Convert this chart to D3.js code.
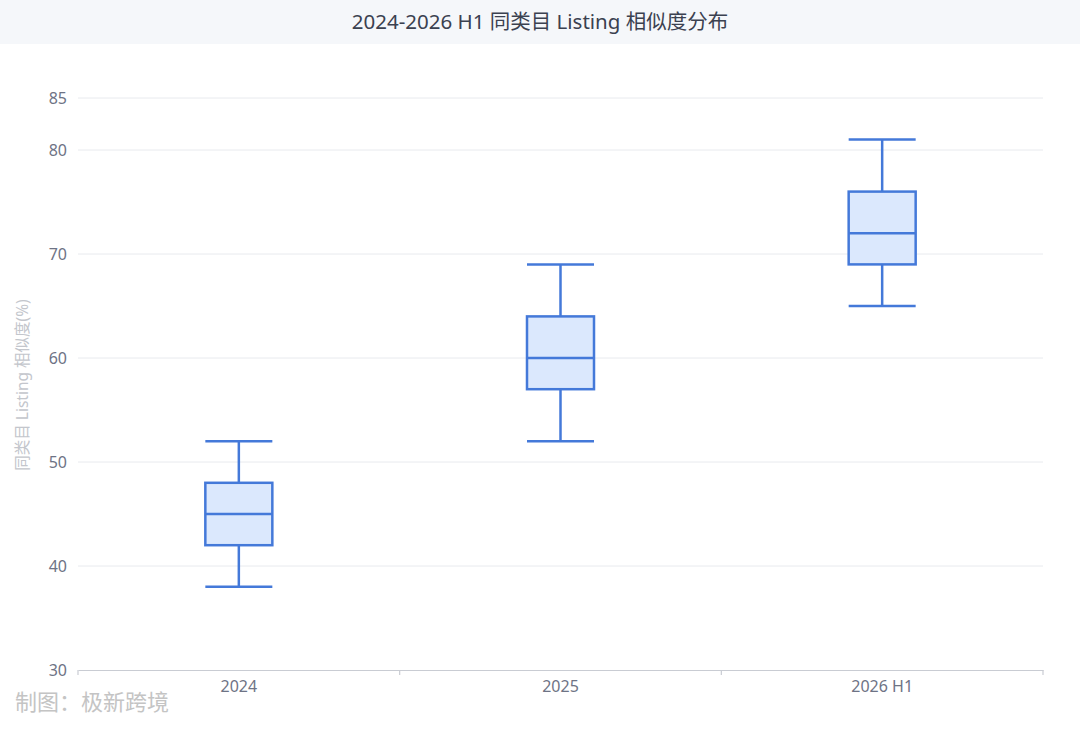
<!DOCTYPE html>
<html>
<head>
<meta charset="utf-8">
<script src="https://cdn.jsdelivr.net/npm/d3@7/dist/d3.min.js"></script>
<style>
  body { margin: 0; background: #fff; }
  svg { display: block; font-family: "Noto Sans", "Noto Sans CJK SC", sans-serif; }
</style>
</head>
<body>
<svg width="1080" height="737"></svg>
<script>
var categories = ["2024", "2025", "2026 H1"];
var mins    = [38, 52, 65];
var q1s     = [42, 57, 69];
var medians = [45, 60, 72];
var q3s     = [48, 64, 76];
var maxs    = [52, 69, 81];
var yTicks  = [30, 40, 50, 60, 70, 80, 85];

var svg = d3.select("svg"),
    width = +svg.attr("width"),
    height = +svg.attr("height");

var margin = {top: 98, right: 37, bottom: 67, left: 78};

var x = d3.scaleBand()
    .domain(categories)
    .range([margin.left, width - margin.right]);

var y = d3.scaleLinear()
    .domain([30, 85])
    .range([height - margin.bottom, margin.top]);

// title bar
svg.append("rect")
    .attr("x", 0).attr("y", 0)
    .attr("width", width).attr("height", 44)
    .attr("fill", "#f5f7fa");

svg.append("text")
    .attr("x", width / 2)
    .attr("y", 29)
    .attr("text-anchor", "middle")
    .attr("font-size", "20.5px")
    .attr("fill", "#3b4150")
    .text("2024-2026 H1 同类目 Listing 相似度分布");

// grid
svg.append("g")
  .selectAll("line")
  .data(yTicks.filter(function(d) { return d > 30; }))
  .enter().append("line")
    .attr("x1", margin.left)
    .attr("x2", width - margin.right)
    .attr("y1", function(d) { return y(d); })
    .attr("y2", function(d) { return y(d); })
    .attr("stroke", "#e8eaee")
    .attr("stroke-width", 1);

// y axis labels
var yAxis = d3.axisLeft(y).tickValues(yTicks).tickSize(0).tickPadding(11);
var yg = svg.append("g")
    .attr("transform", "translate(" + margin.left + ",0)")
    .call(yAxis);
yg.select(".domain").remove();
yg.selectAll("text")
    .attr("font-size", "16px")
    .attr("fill", "#6e7385")
    .attr("font-family", "\"Noto Sans\", sans-serif");

// x axis
var xg = svg.append("g")
    .attr("transform", "translate(0," + y(30) + ")")
    .call(d3.axisBottom(x).tickSize(0).tickPadding(11));
xg.select(".domain").attr("stroke", "#c9ccd3").attr("stroke-width", 1.2);
xg.selectAll("text")
    .attr("font-size", "16px")
    .attr("fill", "#6e7385")
    .attr("font-family", "\"Noto Sans\", sans-serif");

// band boundary ticks
var edges = categories.map(function(c) { return x(c); }).concat([x.range()[1]]);
svg.append("g")
  .selectAll("line")
  .data(edges)
  .enter().append("line")
    .attr("x1", function(d) { return d; })
    .attr("x2", function(d) { return d; })
    .attr("y1", y(30))
    .attr("y2", y(30) + 5)
    .attr("stroke", "#c9ccd3")
    .attr("stroke-width", 1.2);

// y axis title
svg.append("text")
    .attr("transform", "translate(28," + ((y(30) + y(85)) / 2 + 1) + ") rotate(-90)")
    .attr("text-anchor", "middle")
    .attr("font-size", "15.5px")
    .attr("fill", "#c3c6cc")
    .text("同类目 Listing 相似度(%)");

// boxes
var boxW = 67;
var stroke = "#4479d9";
var boxes = svg.append("g")
  .selectAll("g")
  .data(categories)
  .enter().append("g")
    .attr("transform", function(d) { return "translate(" + (x(d) + x.bandwidth() / 2) + ",0)"; });

boxes.append("line")
    .attr("y1", function(d, i) { return y(maxs[i]); })
    .attr("y2", function(d, i) { return y(q3s[i]); })
    .attr("stroke", stroke).attr("stroke-width", 2.5);
boxes.append("line")
    .attr("y1", function(d, i) { return y(q1s[i]); })
    .attr("y2", function(d, i) { return y(mins[i]); })
    .attr("stroke", stroke).attr("stroke-width", 2.5);
boxes.append("line")
    .attr("x1", -boxW / 2).attr("x2", boxW / 2)
    .attr("y1", function(d, i) { return y(maxs[i]); })
    .attr("y2", function(d, i) { return y(maxs[i]); })
    .attr("stroke", stroke).attr("stroke-width", 2.5);
boxes.append("line")
    .attr("x1", -boxW / 2).attr("x2", boxW / 2)
    .attr("y1", function(d, i) { return y(mins[i]); })
    .attr("y2", function(d, i) { return y(mins[i]); })
    .attr("stroke", stroke).attr("stroke-width", 2.5);
boxes.append("rect")
    .attr("x", -boxW / 2)
    .attr("width", boxW)
    .attr("y", function(d, i) { return y(q3s[i]); })
    .attr("height", function(d, i) { return y(q1s[i]) - y(q3s[i]); })
    .attr("fill", "#dbe8fd")
    .attr("stroke", stroke).attr("stroke-width", 2.5);
boxes.append("line")
    .attr("x1", -boxW / 2).attr("x2", boxW / 2)
    .attr("y1", function(d, i) { return y(medians[i]); })
    .attr("y2", function(d, i) { return y(medians[i]); })
    .attr("stroke", stroke).attr("stroke-width", 2.5);

// watermark
svg.append("text")
    .attr("x", 15)
    .attr("y", 710)
    .attr("font-size", "22px")
    .attr("fill", "#c4c4c4")
    .attr("font-family", "\"Noto Sans CJK SC\", sans-serif")
    .text("制图：极新跨境");
</script>
</body>
</html>
